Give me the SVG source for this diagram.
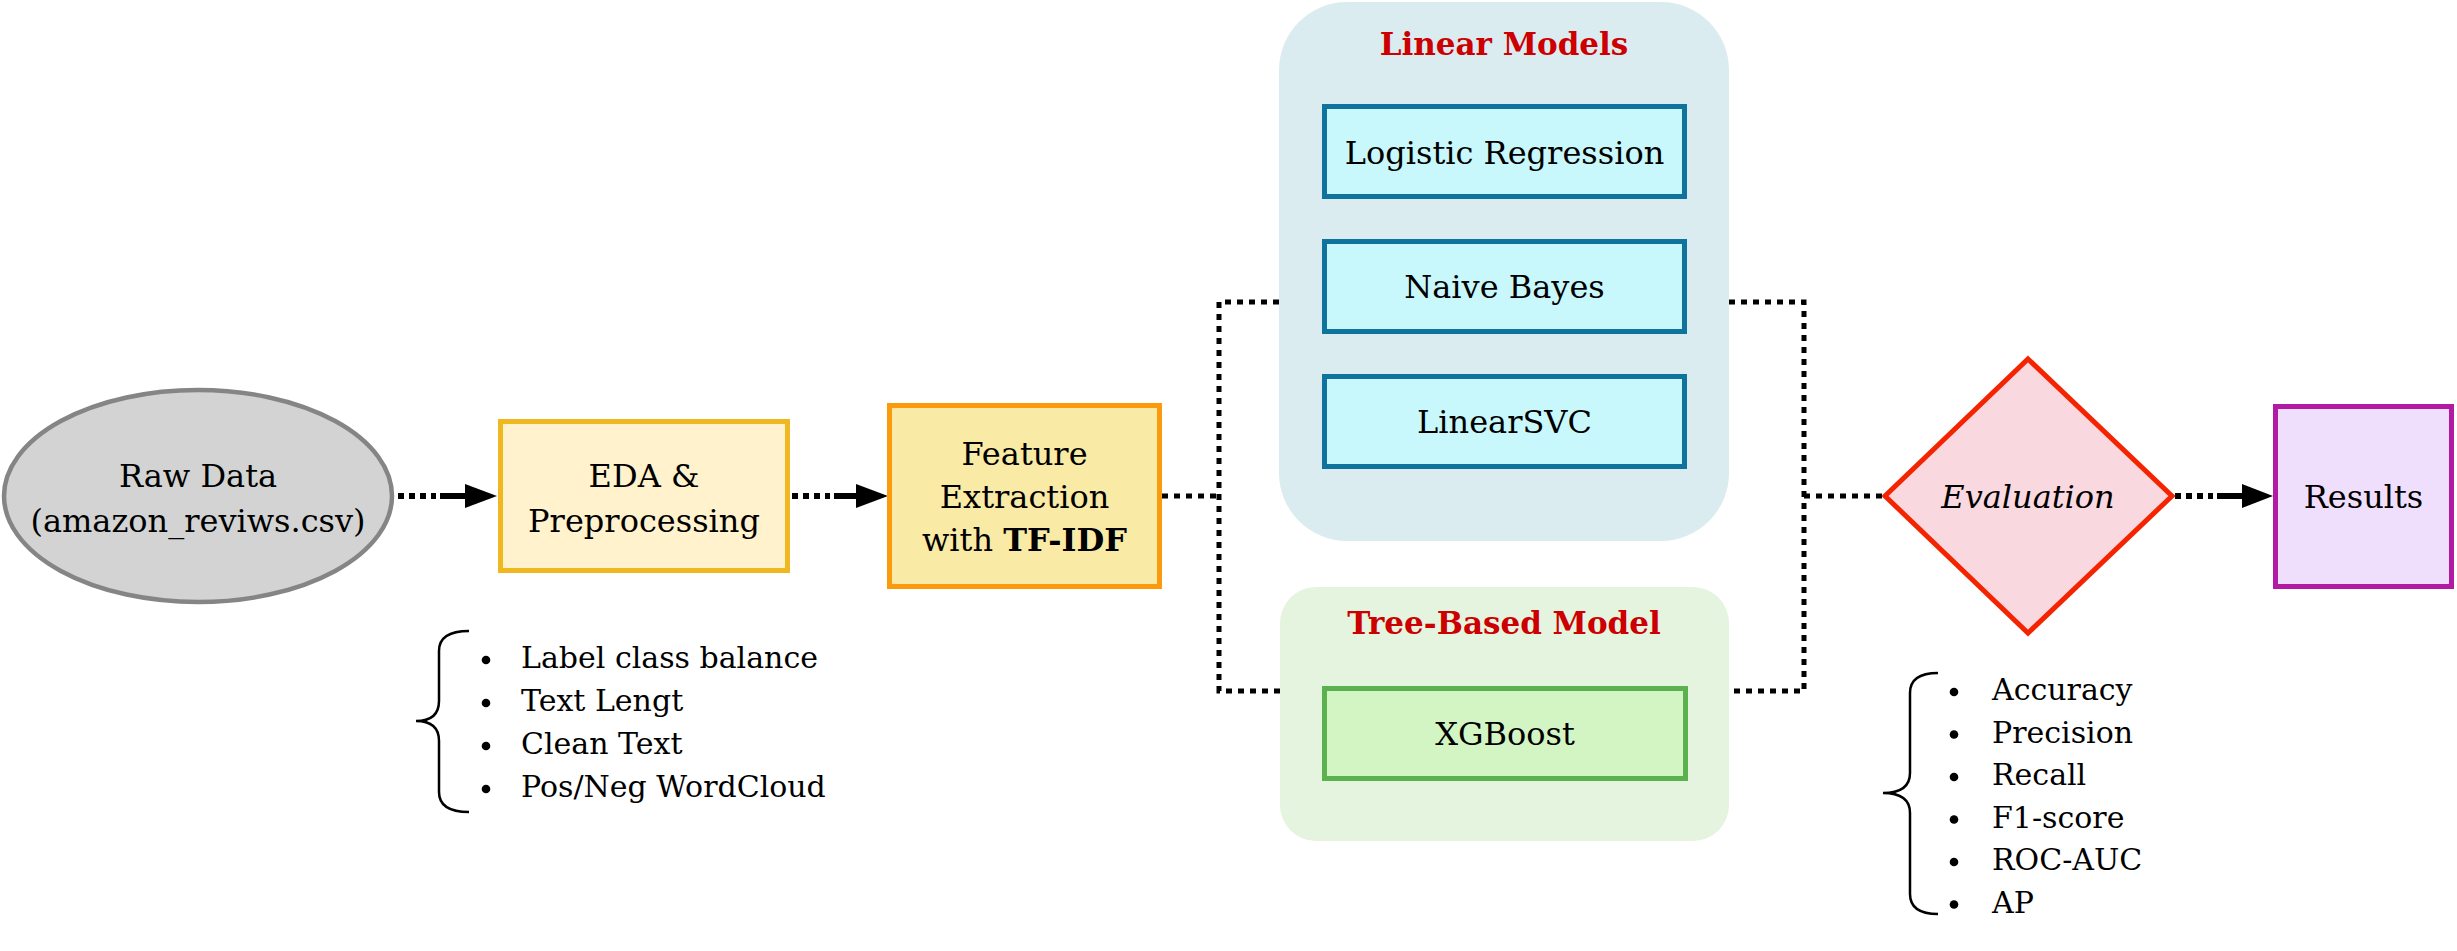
<svg xmlns="http://www.w3.org/2000/svg" width="2457" height="951" viewBox="0 0 2457 951">
<defs>
<style>
.t{font-family:"DejaVu Serif","Liberation Serif",serif;font-size:32px;fill:#000;text-anchor:middle}
.l{font-family:"DejaVu Serif","Liberation Serif",serif;font-size:30px;fill:#000}
.h{font-family:"DejaVu Serif","Liberation Serif",serif;font-size:31px;font-weight:bold;fill:#cc0000;text-anchor:middle}
.dot{fill:none;stroke:#000;stroke-width:5;stroke-dasharray:6 6}
.adot{fill:none;stroke:#000;stroke-width:6;stroke-dasharray:6 5}
.sol{fill:none;stroke:#000;stroke-width:6}
.brace{fill:none;stroke:#000;stroke-width:2.5}
.lin{fill:#c8f8fc;stroke:#10739e;stroke-width:5}
</style>
</defs>
<rect width="2457" height="951" fill="#fff"/>

<g id="linear-models-group">
<rect x="1279" y="2" width="450" height="539" rx="68" ry="68" fill="#dbecf0"/>
<text class="h" x="1504" y="55">Linear Models</text>
</g>
<g id="tree-models-group">
<rect x="1280" y="587" width="449" height="254" rx="36" ry="36" fill="#e4f4de"/>
<text class="h" x="1504" y="634">Tree-Based Model</text>
</g>

<g id="connectors">
<path class="adot" d="M398 496 H436"/>
<path class="sol" d="M440 496 H467"/>
<polygon points="465,484 497,496 465,508" fill="#000"/>
<path class="adot" d="M792 496 H830"/>
<path class="sol" d="M834 496 H858"/>
<polygon points="856,484 888,496 856,508" fill="#000"/>
<path class="dot" d="M1162 496 H1219"/>
<path class="dot" d="M1279 302 H1219 V691 H1280"/>
<path class="dot" d="M1729 302 H1804 V691 H1729"/>
<path class="dot" d="M1804 496 H1885"/>
<path class="adot" d="M2175 496 H2213"/>
<path class="sol" d="M2217 496 H2244"/>
<polygon points="2242,484 2273,496 2242,508" fill="#000"/>
</g>

<g id="raw-data">
<ellipse cx="198" cy="496" rx="194" ry="106" fill="#d3d3d3" stroke="#858585" stroke-width="4.5"/>
<text class="t" x="198" y="487">Raw Data</text>
<text class="t" x="198" y="532">(amazon_reviws.csv)</text>
</g>

<g id="eda">
<rect x="500.5" y="421.5" width="287" height="149" fill="#fff2cc" stroke="#efb820" stroke-width="5"/>
<text class="t" x="644" y="487">EDA &amp;</text>
<text class="t" x="644" y="532">Preprocessing</text>
</g>

<g id="eda-notes">
<path class="brace" d="M469 631 Q439 631 439 651 L439 701 Q439 721 416 721 Q439 721 439 741 L439 792 Q439 812 469 812"/>
<circle cx="486" cy="660" r="4.3"/>
<circle cx="486" cy="703" r="4.3"/>
<circle cx="486" cy="746" r="4.3"/>
<circle cx="486" cy="789" r="4.3"/>
<text class="l" x="521" y="668">Label class balance</text>
<text class="l" x="521" y="711">Text Lengt</text>
<text class="l" x="521" y="754">Clean Text</text>
<text class="l" x="521" y="797">Pos/Neg WordCloud</text>
</g>

<g id="feature-extraction">
<rect x="889.5" y="405.5" width="270" height="181" fill="#f9eaa6" stroke="#fb9a0c" stroke-width="5"/>
<text class="t" x="1024.5" y="465">Feature</text>
<text class="t" x="1024.5" y="508">Extraction</text>
<text class="t" x="1024.5" y="551">with <tspan font-weight="bold">TF-IDF</tspan></text>
</g>

<g id="logistic-regression">
<rect class="lin" x="1324.5" y="106.5" width="360" height="90"/>
<text class="t" x="1504.5" y="164">Logistic Regression</text>
</g>
<g id="naive-bayes">
<rect class="lin" x="1324.5" y="241.5" width="360" height="90"/>
<text class="t" x="1504.5" y="298">Naive Bayes</text>
</g>
<g id="linear-svc">
<rect class="lin" x="1324.5" y="376.5" width="360" height="90"/>
<text class="t" x="1504.5" y="433">LinearSVC</text>
</g>

<g id="xgboost">
<rect x="1324.5" y="688.5" width="361" height="90" fill="#d3f5c4" stroke="#5cb14f" stroke-width="5"/>
<text class="t" x="1505" y="745">XGBoost</text>
</g>

<g id="evaluation">
<polygon points="2028,359 2172,496 2028,633 1885,496" fill="#fad8e0" stroke="#f52400" stroke-width="5"/>
<text class="t" x="2028" y="508" font-style="italic">Evaluation</text>
</g>

<g id="evaluation-metrics">
<path class="brace" d="M1938 673 Q1910 673 1910 693 L1910 773 Q1910 793 1883 793 Q1910 793 1910 813 L1910 894 Q1910 914 1938 914"/>
<circle cx="1954" cy="692" r="4.3"/>
<circle cx="1954" cy="734.5" r="4.3"/>
<circle cx="1954" cy="777" r="4.3"/>
<circle cx="1954" cy="819.5" r="4.3"/>
<circle cx="1954" cy="862" r="4.3"/>
<circle cx="1954" cy="904.5" r="4.3"/>
<text class="l" x="1992" y="700">Accuracy</text>
<text class="l" x="1992" y="742.5">Precision</text>
<text class="l" x="1992" y="785">Recall</text>
<text class="l" x="1992" y="827.5">F1-score</text>
<text class="l" x="1992" y="870">ROC-AUC</text>
<text class="l" x="1992" y="912.5">AP</text>
</g>

<g id="results">
<rect x="2275.5" y="406.5" width="176" height="180" fill="#f0dffc" stroke="#b11aa3" stroke-width="5"/>
<text class="t" x="2363.5" y="508">Results</text>
</g>
</svg>
